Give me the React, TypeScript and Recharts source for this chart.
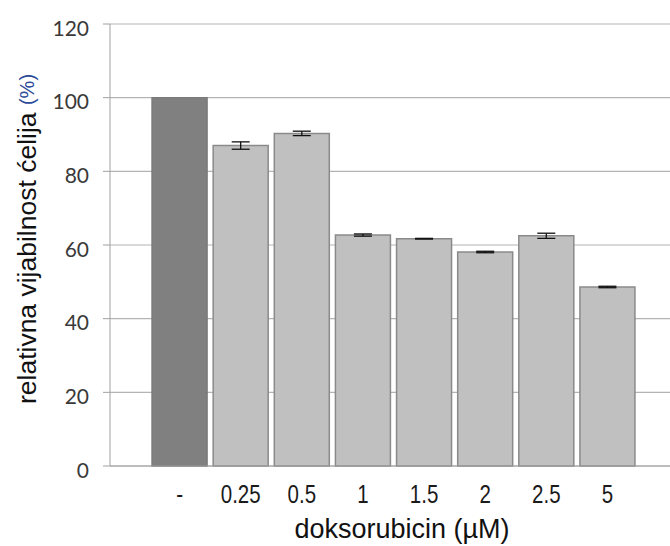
import { BarChart, Bar, XAxis, YAxis, CartesianGrid, Cell, ErrorBar, Label } from 'recharts'

const categories = ['-', '0.25', '0.5', '1', '1.5', '2', '2.5', '5']
const viability = [100, 87.0, 90.3, 62.7, 61.7, 58.1, 62.5, 48.6]
const errors: (number | null)[] = [null, 1.0, 0.6, 0.3, 0.1, 0.2, 0.7, 0.2]
const yTicks = [0, 20, 40, 60, 80, 100, 120]

const data = categories.map((c, i) => ({ dose: c, value: viability[i], err: errors[i] }))

const sans = "'Liberation Sans', Arial, sans-serif"

function YTitle() {
  const cx = 27
  const cy = 239
  return (
    <text
      x={cx}
      y={cy}
      transform={`rotate(-90 ${cx} ${cy})`}
      textAnchor="middle"
      dominantBaseline="central"
      fontFamily={sans}
      fontSize={26.5}
      fill="#111"
    >
      relativna vijabilnost ćelija{' '}
      <tspan fontSize={20} fill="#2b4a9a">(%)</tspan>
    </text>
  )
}

function XTick({ x, y, payload }: any) {
  // narrow look of the original tick labels
  return (
    <g transform={`translate(${x},${y + 37})`}>
      <text transform="scale(0.82,1)" textAnchor="middle" fontFamily={sans} fontSize={25} fill="#1a1a1a">
        {payload.value}
      </text>
    </g>
  )
}

function YTick({ x, y, payload }: any) {
  return (
    <text x={x} y={y + 3} textAnchor="end" dominantBaseline="central" fontFamily="Lato, 'Open Sans', sans-serif" fontSize={21} fill="#3a3a3a">
      {payload.value}
    </text>
  )
}

export default function App() {
  return (
    <div style={{ position: 'absolute', left: 0, top: 0, background: '#fff' }}>
      <BarChart
        width={670}
        height={546}
        data={data}
        margin={{ top: 24, right: 0, left: 0, bottom: 0 }}
        barCategoryGap="5%"
      >
        <CartesianGrid vertical={false} stroke="#b4b4b4" strokeWidth={1.2} />
        <XAxis
          dataKey="dose"
          height={80}
          padding={{ left: 39, right: 32 }}
          tickLine={false}
          tickSize={0}
          tickMargin={0}
          stroke="#a0a0a0"
          interval={0}
          tick={<XTick />}
        >
          <Label
            value="doksorubicin (µM)"
            position="insideBottom"
            offset={8}
            dx={12}
            style={{ fontSize: 27, fill: '#111', fontFamily: sans }}
          />
        </XAxis>
        <YAxis
          width={110}
          domain={[0, 120]}
          ticks={yTicks}
          interval={0}
          stroke="#a0a0a0"
          tickSize={7}
          tickMargin={14}
          tick={<YTick />}
          label={<YTitle />}
        />
        <Bar dataKey="value" isAnimationActive={false} strokeWidth={1.5}>
          {data.map((d, i) => (
            <Cell
              key={d.dose}
              fill={i === 0 ? '#808080' : '#c0c0c0'}
              stroke={i === 0 ? '#7a7a7a' : '#8a8a8a'}
            />
          ))}
          <ErrorBar dataKey="err" width={9} stroke="#111" strokeWidth={1.3} isAnimationActive={false} />
        </Bar>
      </BarChart>
    </div>
  )
}
